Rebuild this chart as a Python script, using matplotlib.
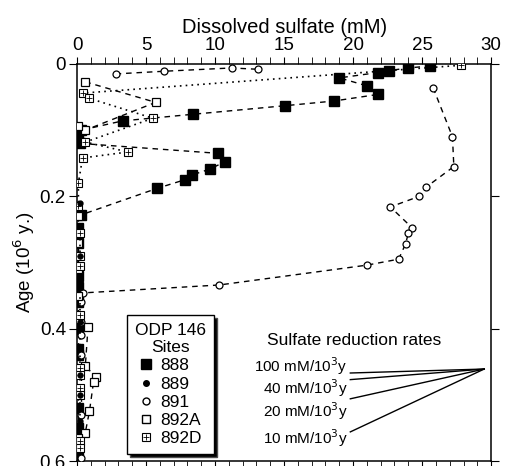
import matplotlib
matplotlib.use("Agg")
import matplotlib.pyplot as plt
from matplotlib.lines import Line2D
from matplotlib.legend_handler import HandlerTuple

plt.rcParams['font.family'] = ['Liberation Sans', 'DejaVu Sans']

# --- data: dissolved sulfate (mM) vs age (10^6 y) ---
# site 888 (filled squares)
s888_x1 = [25.6, 24.0, 22.6, 21.8, 19.0, 21.0, 21.8, 18.6, 15.1, 8.4, 3.3, 0.3, 0.1]
s888_y1 = [0.003, 0.006, 0.010, 0.013, 0.021, 0.033, 0.046, 0.056, 0.063, 0.076, 0.086, 0.100, 0.110]
s888_x2 = [0.2, 10.2, 10.7, 9.6, 8.3, 7.8, 5.8, 0.3]
s888_y2 = [0.120, 0.135, 0.148, 0.159, 0.168, 0.175, 0.188, 0.228]
s888_x3 = [0.1, 0.1, 0.1, 0.1, 0.1, 0.1, 0.1, 0.1, 0.1, 0.1, 0.1]
s888_y3 = [0.248, 0.270, 0.320, 0.337, 0.360, 0.400, 0.430, 0.440, 0.520, 0.550, 0.590]

# site 889 (small filled circles)
s889_x = [0.2, 0.2, 0.2, 0.2, 0.2, 0.2]
s889_y = [0.210, 0.290, 0.390, 0.470, 0.500, 0.540]

# site 891 (open circles)
s891_x1 = [2.8, 6.3, 11.2, 13.1]
s891_y1 = [0.015, 0.011, 0.006, 0.008]
s891_x2 = [25.8, 27.2, 27.3, 25.3, 24.8, 22.7, 24.3, 24.0, 23.8, 23.3, 21.0, 10.3, 0.4]
s891_y2 = [0.036, 0.110, 0.155, 0.186, 0.200, 0.216, 0.248, 0.256, 0.272, 0.295, 0.304, 0.334, 0.346]
s891_x3 = [0.3, 0.3, 0.3, 0.3, 0.3, 0.3]
s891_y3 = [0.360, 0.390, 0.410, 0.440, 0.530, 0.595]

# site 892A (open squares)
s892a_x1 = [0.6, 5.7, 0.6, 0.1]
s892a_y1 = [0.027, 0.058, 0.100, 0.094]
s892a_x2 = [0.1, 0.1, 0.1, 0.1, 0.1, 0.8, 0.6, 1.4, 1.2, 0.9, 0.6, 0.1]
s892a_y2 = [0.230, 0.270, 0.310, 0.350, 0.385, 0.397, 0.457, 0.473, 0.480, 0.525, 0.557, 0.565]

# site 892D (crossed squares)
s892d_x1 = [27.8, 0.4, 0.9, 5.5, 0.6, 3.7, 0.4, 0.1, 0.1]
s892d_y1 = [0.002, 0.044, 0.052, 0.082, 0.118, 0.133, 0.142, 0.180, 0.215]
s892d_x2 = [0.2, 0.2, 0.2, 0.2, 0.2, 0.2, 0.2, 0.2, 0.2, 0.2]
s892d_y2 = [0.255, 0.290, 0.305, 0.380, 0.460, 0.470, 0.490, 0.500, 0.570, 0.580]

# sulfate reduction rate key
rate_labels = ['100 mM/10$^3$y', '40 mM/10$^3$y', '20 mM/10$^3$y', '10 mM/10$^3$y']
rate_text_y = [0.457, 0.490, 0.525, 0.565]
rate_line_y = [0.467, 0.477, 0.506, 0.556]
rate_apex = (29.5, 0.461)

fig = plt.figure(figsize=(5.05, 4.66), dpi=100)
ax = fig.add_axes([0.1525, 0.0107, 0.82, 0.852])

dash = (0, (4, 3.5))
dot = (0, (1, 2.5))

def sq888(x, y):
    ax.plot(x, y, color='black', ls=dash, lw=1.0, marker='s', ms=6.5,
            mfc='black', mec='black', zorder=3)

def circ891(x, y):
    ax.plot(x, y, color='black', ls=dash, lw=1.0, marker='o', ms=5,
            mfc='white', mec='black', mew=0.9, zorder=3)

def sq892a(x, y):
    ax.plot(x, y, color='black', ls=dash, lw=1.0, marker='s', ms=6,
            mfc='white', mec='black', mew=0.9, zorder=3)

def sq892d(x, y):
    ax.plot(x, y, color='black', ls=dot, lw=1.2, marker='s', ms=5.5,
            mfc='white', mec='black', mew=0.8, zorder=3)
    ax.plot(x, y, ls='none', marker='+', ms=5, mec='black', mew=0.6, zorder=4)

sq888(s888_x1, s888_y1)
sq888(s888_x2, s888_y2)
sq888(s888_x3, s888_y3)
ax.plot(s889_x, s889_y, ls='none', marker='o', ms=3.5, mfc='black', mec='black', zorder=4)
circ891(s891_x1, s891_y1)
circ891(s891_x2, s891_y2)
circ891(s891_x3, s891_y3)
sq892a(s892a_x1, s892a_y1)
sq892a(s892a_x2, s892a_y2)
sq892d(s892d_x1, s892d_y1)
sq892d(s892d_x2, s892d_y2)

ax.set_xlim(0, 30)
ax.set_ylim(0.6, 0)
ax.xaxis.tick_top()
ax.xaxis.set_label_position('top')
ax.set_xticks(range(0, 31, 5))
ax.set_xticks(range(0, 31), minor=True)
ax.set_yticks([0, 0.2, 0.4, 0.6])
ax.set_yticklabels(['0', '0.2', '0.4', '0.6'])
ax.tick_params(axis='x', which='both', direction='out', top=True, bottom=True,
               labeltop=True, labelbottom=False, labelsize=13.5, length=5, pad=2)
ax.tick_params(axis='y', which='both', direction='out', left=True, right=True,
               labelsize=13.5, length=6, pad=2)
for sp in ax.spines.values():
    sp.set_linewidth(1.1)
ax.set_xlabel('Dissolved sulfate (mM)', fontsize=14.5, labelpad=3)
ax.set_ylabel('Age (10$^6$ y.)', fontsize=13.5, labelpad=2)

# rate key
ax.text(20.1, 0.418, 'Sulfate reduction rates', fontsize=12.5, ha='center', va='center')
for lab, ty, ly in zip(rate_labels, rate_text_y, rate_line_y):
    ax.text(19.6, ty, lab, fontsize=11, ha='right', va='center')
    ax.plot([19.8, rate_apex[0]], [ly, rate_apex[1]], color='black', lw=1.0)

# legend
h888 = Line2D([], [], ls='none', marker='s', ms=6.5, mfc='black', mec='black')
h889 = Line2D([], [], ls='none', marker='o', ms=4, mfc='black', mec='black')
h891 = Line2D([], [], ls='none', marker='o', ms=5, mfc='white', mec='black')
h892a = Line2D([], [], ls='none', marker='s', ms=6, mfc='white', mec='black')
h892d_a = Line2D([], [], ls='none', marker='s', ms=5.5, mfc='white', mec='black', mew=0.8)
h892d_b = Line2D([], [], ls='none', marker='+', ms=5, mec='black', mew=0.6)
leg = ax.legend([h888, h889, h891, h892a, (h892d_a, h892d_b)],
                ['888', '889', '891', '892A', '892D'],
                title='ODP 146\nSites', title_fontsize=12.5, fontsize=12.5,
                loc='upper left', bbox_to_anchor=(0.10, 0.39),
                handler_map={tuple: HandlerTuple(ndivide=1, pad=0)},
                handlelength=0.8, handletextpad=0.4, labelspacing=0.18,
                borderpad=0.45, fancybox=False, edgecolor='black',
                shadow={'fc': 'black', 'alpha': 1.0}, framealpha=1)
leg.get_frame().set_linewidth(1.0)
leg.get_title().set_multialignment('center')

fig.savefig('out.png', dpi=100)
